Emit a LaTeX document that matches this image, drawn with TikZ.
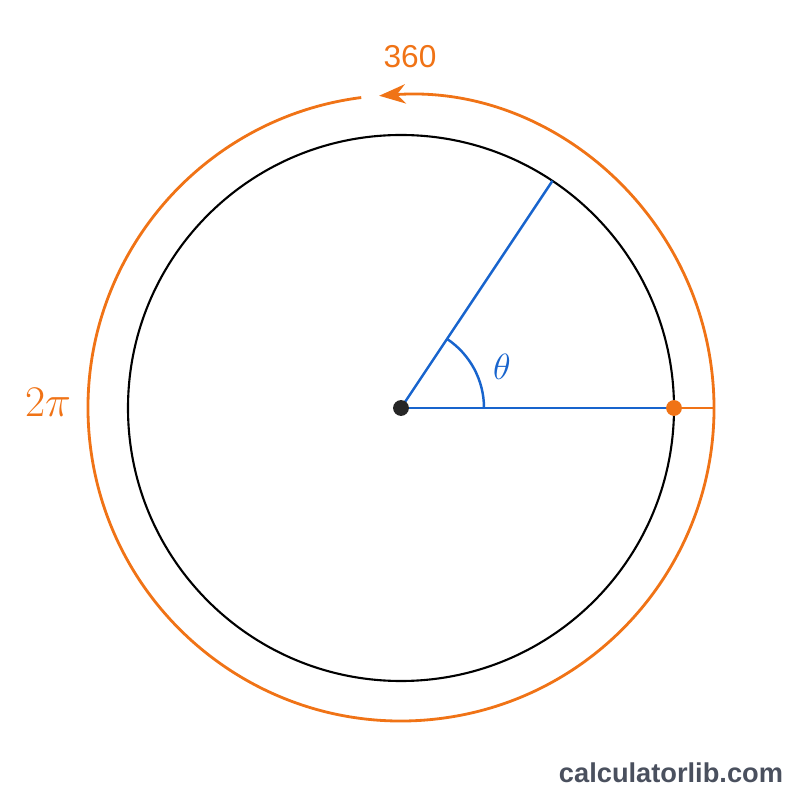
\documentclass[tikz,border=0pt]{standalone}
\usepackage{amsmath,amssymb}
\usepackage{fontspec}
\usepackage{tikz}
\usetikzlibrary{arrows.meta}
\newfontfamily\labelfont{Liberation Sans}
\definecolor{arcorange}{RGB}{240,115,22}
\definecolor{rayblue}{RGB}{24,100,205}
\definecolor{markgray}{RGB}{74,80,94}
\tikzset{
  ray/.style={rayblue,line width=1.4pt},
  turn/.style={arcorange,line width=1.6pt},
  dot/.style={circle,inner sep=0pt,minimum size=9pt}
}

\begin{document}
\begin{tikzpicture}
\useasboundingbox (-8.02,-7.84) rectangle (7.98,8.16);

% to draw the unit circle
\draw [line width=1.2pt] (0,0) circle (5.46);

% to draw the full turn with arrow
\draw [turn,-{Stealth[length=15pt,width=11pt]}] (97.3:6.26) arc[start angle=97.3,end angle=454,radius=6.26];
\coordinate (outer) at (6.26,0);

% to draw the angle
\coordinate (tip) at (56.3:5.46);
\coordinate (rim) at (5.46,0);
\draw [ray] (0,0) -- (tip);
\draw [ray] (0,0) -- (rim);
\draw [ray] (1.66,0) arc[start angle=0,end angle=56.3,radius=1.66];
\draw [turn] (rim) -- (outer);
\node [dot,fill=black!85] (centre) at (0,0) {};
\node [dot,fill=arcorange] (point) at (rim) {};

% to write labels
\node [rayblue] (theta) at (2.02,0.82) {\fontsize{21}{24}\selectfont$\theta$};
\node [arcorange] (deg) at (0.18,7.02) {\labelfont\fontsize{18}{21}\selectfont 360};
\node [arcorange] (rad) at (-7.06,0.12) {\fontsize{25}{29}\selectfont$2\pi$};
\node [markgray] (site) at (5.4,-7.3) {\labelfont\bfseries\fontsize{15.5}{18}\selectfont calculatorlib.com};
\end{tikzpicture}
\end{document}
